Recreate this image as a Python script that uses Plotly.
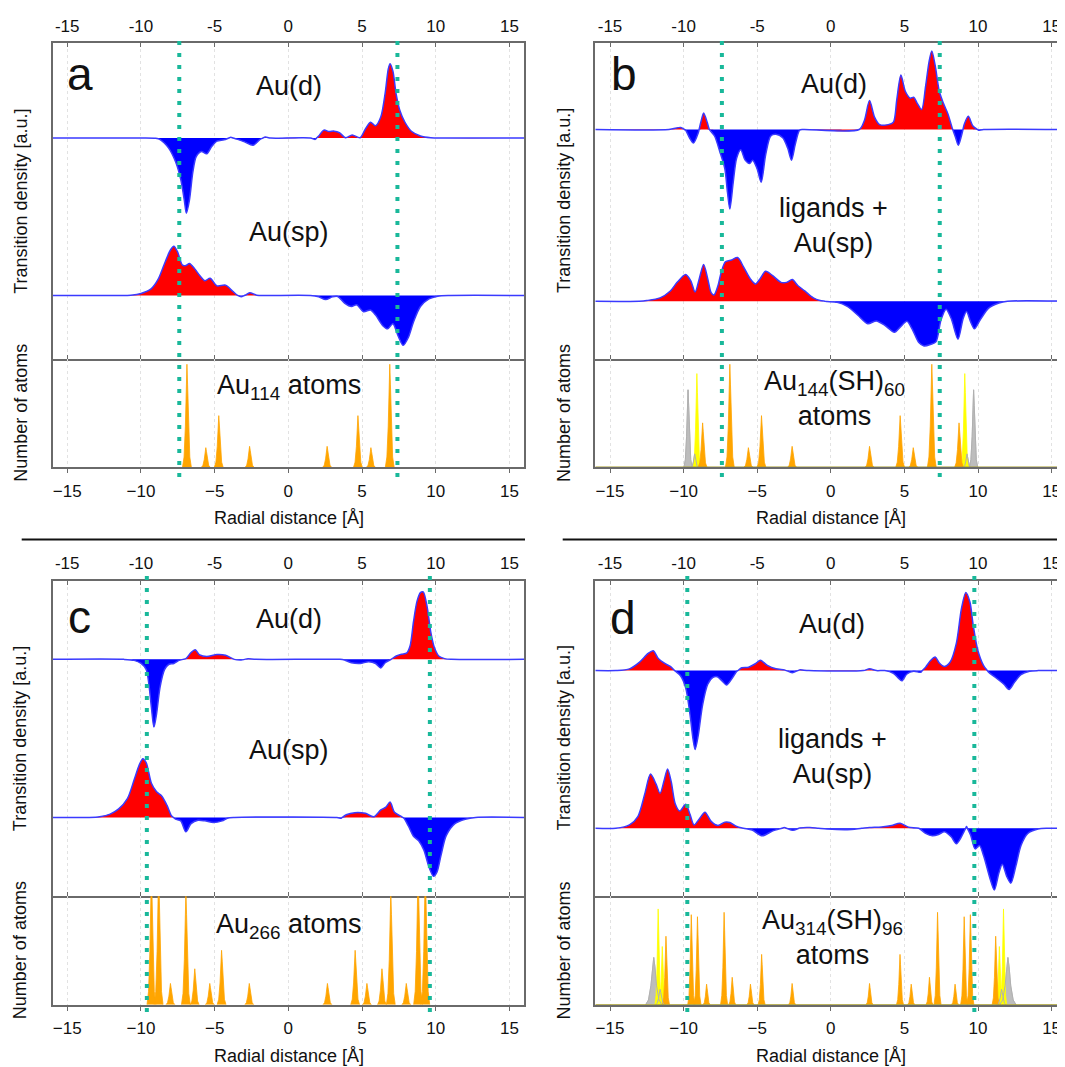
import numpy as np
import plotly.graph_objects as go

# page geometry: the browser body keeps an 8px margin, so the figure is placed at (8, 8)
W, H = 1065, 1067
OFF = 8
FW, FH = W - OFF, H - OFF
XRANGE = [-16, 16]
TICKS = [-15, -10, -5, 0, 5, 10, 15]
TOP_TICKTEXT = ["-15", "-10", "-5", "0", "5", "10", "15"]
BOTTOM_TICKTEXT = ["\u221215", "\u221210", "\u22125", "0", "5", "10", "15"]

# ---------------- transition density curves (x [Å], value [a.u.]) ----------------
A_D = [(-16, 0), (-10, 0), (-9.0, -0.3), (-8.7, -1.5), (-8.12, -9.7), (-7.65, -23), (-7.3, -40),
       (-7.06, -60), (-6.92, -72.7), (-6.71, -60), (-6.48, -33), (-6.25, -18), (-5.9, -13),
       (-5.54, -15.3), (-5.19, -8), (-4.84, -3), (-4.37, -1.7), (-3.91, 0.7), (-3.44, -1.3),
       (-2.97, -3.7), (-2.39, -7), (-1.92, -1.3), (-1.57, 1), (-1.2, 0), (1.5, 0), (1.82, -1.3),
       (2.06, 2), (2.41, 7.7), (2.76, 6.3), (3.11, 6.7), (3.46, 5.3), (3.88, 0.3), (4.33, 3),
       (4.87, 0.3), (5.22, 8.7), (5.57, 15.3), (5.92, 12), (6.27, 20.3), (6.57, 43.7), (6.78, 67),
       (6.9, 72), (7.09, 65), (7.32, 42), (7.56, 27), (7.91, 15.3), (8.37, 6.3), (8.96, 2),
       (9.66, 0.3), (10.5, 0), (16, 0)]
A_SP = [(-16, 0), (-11.5, 0), (-10.69, 0.3), (-9.99, 2), (-9.29, 6.7), (-8.82, 16), (-8.35, 32.7),
        (-8.0, 44), (-7.77, 47.7), (-7.53, 42.7), (-7.18, 29.3), (-6.95, 29), (-6.71, 31),
        (-6.36, 26), (-6.01, 19.3), (-5.66, 14.3), (-5.31, 16.7), (-4.84, 9.3), (-4.26, 10),
        (-3.79, 4.3), (-3.44, 0), (-3.2, -1.3), (-2.9, 0.5), (-2.62, 2.7), (-2.15, 0.3), (-1.5, 0),
        (1.5, 0), (2.06, -1.3), (2.53, -4), (3.0, -1.3), (3.35, -1), (3.81, -7.3), (4.28, -10.7),
        (4.63, -9), (5.1, -15.7), (5.57, -14), (5.92, -19), (6.39, -29), (6.74, -32.3),
        (7.09, -27.3), (7.44, -39), (7.79, -48.3), (8.14, -40.7), (8.49, -25.7), (8.96, -10.7),
        (9.54, -3.3), (10.13, -0.7), (11, 0), (16, 0)]
B_D = [(-16, 0), (-11, 0), (-10.2, 2), (-9.86, -0.7), (-9.6, -8), (-9.33, -13), (-9.0, -3),
       (-8.8, 8.7), (-8.64, 16), (-8.4, 7), (-8.25, 0), (-7.9, -6.3), (-7.55, -21), (-7.2, -38),
       (-7.02, -61), (-6.86, -77), (-6.63, -51), (-6.4, -28), (-6.12, -19.7), (-5.82, -29.7),
       (-5.52, -33), (-5.31, -29.7), (-5.01, -38), (-4.73, -51), (-4.43, -24.7), (-4.08, -6.3),
       (-3.73, -4.7), (-3.27, -8), (-2.93, -18), (-2.67, -29.7), (-2.42, -14.7), (-2.12, -0.7),
       (-1.88, 0), (1.93, 0), (2.28, 8.7), (2.63, 28), (2.97, 12), (3.32, 4.7), (3.9, 4.7),
       (4.25, 7), (4.48, 28.7), (4.76, 52.7), (5.06, 37), (5.4, 30.3), (5.63, 31.3), (5.87, 25.3),
       (6.17, 19.3), (6.44, 42), (6.67, 65.3), (6.86, 76), (7.09, 62), (7.37, 37), (7.65, 25.3),
       (7.95, 15.3), (8.25, 1.3), (8.48, -8), (8.66, -15.3), (8.87, -6.3), (9.06, 4.7),
       (9.34, 12.7), (9.64, 3.7), (10.03, -0.7), (10.38, 0), (16, 0)]
B_SP = [(-16, 0), (-13, 0), (-12.5, 0.7), (-11.6, 3.3), (-10.9, 10), (-10.44, 18.3), (-9.86, 26),
        (-9.52, 20), (-9.22, 9), (-8.94, 21.7), (-8.64, 35.7), (-8.36, 21.7), (-8.13, 8.3),
        (-7.94, 6), (-7.67, 15), (-7.44, 28.3), (-7.16, 38.3), (-6.74, 40), (-6.33, 42.3),
        (-5.93, 33.3), (-5.47, 21.7), (-5.12, 16.7), (-4.78, 22.3), (-4.43, 29), (-3.97, 25),
        (-3.39, 18.3), (-3.0, 18.3), (-2.62, 21), (-2.23, 15), (-1.77, 10), (-1.19, 3.3),
        (-0.73, 0.7), (-0.27, -0.3), (0.43, -1), (1.12, -5), (1.82, -13.3), (2.51, -21.7),
        (3.09, -19), (3.67, -23.3), (4.32, -30), (4.71, -25), (5.17, -19.3), (5.52, -26.7),
        (5.98, -40), (6.33, -43.3), (6.79, -41.7), (7.14, -39.3), (7.48, -18.3), (7.83, -7.7),
        (8.18, -16.7), (8.64, -36.7), (8.99, -16.7), (9.22, -10), (9.5, -20), (9.75, -26.7),
        (10.14, -18.3), (10.72, -6.7), (11.42, -1.7), (12.0, 0), (16, 0)]
C_D = [(-16, 0), (-11.16, 0), (-10.46, -1), (-9.99, -4), (-9.64, -10), (-9.47, -23.3),
       (-9.29, -46.7), (-9.12, -66), (-8.94, -53), (-8.7, -26.7), (-8.4, -10), (-8.12, -5),
       (-7.77, -4), (-7.42, -1), (-6.95, 0.7), (-6.6, 6.7), (-6.32, 9.3), (-6.01, 4.3),
       (-5.54, 2.7), (-4.84, 4.7), (-4.26, 4), (-3.67, 0), (-3.2, -0.7), (-2.74, 0.7), (-2.2, 0),
       (3.5, 0), (3.81, -0.7), (4.28, -3.3), (4.87, -4), (5.45, -2.3), (5.92, -4), (6.27, -8.3),
       (6.57, -3.3), (6.97, 0), (7.32, 3.3), (7.67, 5), (8.02, 6), (8.26, 13.3), (8.49, 36.7),
       (8.73, 56.7), (8.96, 65), (9.15, 65.7), (9.43, 50), (9.66, 26.7), (9.9, 11.7), (10.2, 3.3),
       (10.6, 0.7), (11.06, 0), (16, 0)]
C_SP = [(-16, 0), (-13.5, 0), (-12.8, 0.7), (-12.09, 3.3), (-11.51, 8.3), (-10.92, 18.3),
        (-10.46, 36.7), (-10.1, 51.7), (-9.87, 57.3), (-9.64, 53.3), (-9.29, 33.3), (-8.94, 25),
        (-8.58, 20.7), (-8.23, 11.7), (-7.93, 1.7), (-7.65, -1.7), (-7.3, -3.3), (-6.95, -14),
        (-6.6, -6), (-6.13, -2.7), (-5.66, -3.3), (-5.08, -5), (-4.49, -3.3), (-4.14, -0.7),
        (-3.67, 0), (3.3, 0), (3.58, -0.7), (3.93, 2.7), (4.51, 4.7), (5.22, 4), (5.8, 0.7),
        (6.27, 7.3), (6.62, 10), (6.9, 15), (7.2, 5), (7.56, 1.7), (7.84, -0.7), (8.14, -8.3),
        (8.49, -18.3), (8.84, -22.7), (9.19, -31.7), (9.54, -48.3), (9.85, -57.3), (10.08, -53.3),
        (10.36, -36.7), (10.71, -17.7), (11.3, -6), (12.0, -1.7), (12.7, 0), (16, 0)]
D_D = [(-16, 0), (-14.6, 0), (-13.68, 1.7), (-12.99, 8.3), (-12.41, 16.7), (-12.06, 19.3),
       (-11.72, 11.7), (-11.25, 6.7), (-10.9, 4), (-10.56, -0.7), (-10.21, -5), (-9.86, -16.7),
       (-9.56, -43.3), (-9.36, -66.7), (-9.22, -76.7), (-9.01, -63.3), (-8.71, -33.3),
       (-8.36, -13.3), (-8.01, -6.7), (-7.71, -6), (-7.39, -10), (-7.09, -14), (-6.74, -8.3),
       (-6.39, -0.7), (-6.05, 2.7), (-5.59, 3.3), (-5.12, 6.7), (-4.78, 10), (-4.31, 5),
       (-3.73, 1.7), (-3.16, 0.7), (-2.62, -2), (-2.12, 0.7), (-1.5, 0), (2.2, 0), (2.63, 1.7),
       (3.1, 0), (3.67, 0), (4.25, -2.7), (4.59, -7.3), (4.82, -10), (5.17, -3.3), (5.63, -0.7),
       (6.1, -1.7), (6.44, 3.3), (6.79, 10), (7.09, 13.3), (7.37, 7.3), (7.72, 4), (8.11, 8.3),
       (8.53, 26.7), (8.87, 60), (9.17, 76), (9.45, 66.7), (9.68, 43.3), (9.98, 20), (10.37, 5),
       (10.72, -1.7), (11.19, -6.7), (11.76, -13.3), (12.11, -18.3), (12.46, -11.7),
       (12.92, -4), (13.5, -0.7), (14.08, 0), (16, 0)]
D_SP = [(-16, 0), (-14.6, 0), (-13.68, 3.3), (-13.1, 11.7), (-12.64, 33.3), (-12.25, 52.7),
        (-11.88, 43.3), (-11.6, 34), (-11.32, 46.7), (-11.09, 57.7), (-10.84, 45), (-10.56, 23.3),
        (-10.26, 16.7), (-9.86, 23.3), (-9.56, 13.3), (-9.29, 3.3), (-8.89, 10), (-8.55, 15.7),
        (-8.13, 6.7), (-7.67, 2.7), (-7.2, 6), (-6.86, 5.7), (-6.39, 1.7), (-5.93, 0),
        (-5.35, -1.7), (-4.66, -7.3), (-3.97, -2.7), (-3.16, 0.7), (-2.58, -2), (-2.12, 0.3),
        (-1.42, 0.7), (-0.27, -0.7), (1.12, -1.3), (2.63, 0.7), (3.44, 1.3), (4.13, 2.7),
        (4.71, 5), (5.29, 1), (5.98, 0), (6.44, -5), (6.9, -7.3), (7.32, -6), (7.72, -3.3),
        (8.18, -8.3), (8.53, -15), (8.87, -8.3), (9.22, 1.7), (9.5, -6.7), (9.8, -20),
        (10.1, -16.7), (10.38, -26.7), (10.84, -50), (11.11, -60), (11.42, -43.3), (11.65, -35),
        (11.95, -46.7), (12.23, -53.3), (12.57, -36.7), (12.92, -16.7), (13.38, -5),
        (14.08, -0.7), (14.77, 0), (16, 0)]

# ---------------- atom radial distributions: (position [Å], height, half-width [Å]) ----------------
A_AU = [(-6.88, 99.7, .3), (-5.6, 19, .3), (-4.72, 50, .3), (-2.63, 20.3, .3),
        (2.63, 20.3, .3), (4.72, 50, .3), (5.6, 19, .3), (6.88, 99.7, .3)]
B_AU = [(-8.71, 43, .3), (-6.86, 99.7, .3), (-5.6, 19, .3), (-4.71, 50, .3), (-2.63, 20.3, .3),
        (2.63, 20.3, .3), (4.71, 50, .3), (5.6, 19, .3), (6.86, 99.7, .3), (8.71, 43, .3)]
B_S = [(-9.1, 90.7, .26), (9.1, 90.7, .26)]
B_H = [(-9.7, 75, .28), (-9.25, 13, .25), (9.25, 13, .25), (9.7, 75, .28)]
C_AU = [(-9.29, 130, .3), (-8.8, 130, .3), (-8.0, 20.7, .3), (-6.95, 110, .3), (-6.35, 35, .3),
        (-5.33, 20.7, .3), (-4.53, 53, .3), (-2.65, 20.7, .3), (2.65, 20.7, .3), (4.53, 53, .3),
        (5.33, 20.7, .3), (6.35, 35, .3), (6.95, 110, .3), (8.0, 20.7, .3), (8.8, 130, .3),
        (9.29, 130, .3)]
D_AU = [(-11.2, 66.7, .24), (-9.48, 87.7, .24), (-9.06, 85.7, .24), (-8.44, 20, .24), (-7.25, 90, .24),
        (-6.7, 26.7, .24), (-5.46, 20, .24), (-4.7, 49, .24), (-2.63, 20.7, .24), (2.63, 20.7, .24),
        (4.7, 49, .24), (5.46, 20, .24), (6.7, 26.7, .24), (7.25, 90, .24), (8.44, 20, .24),
        (9.06, 85.7, .24), (9.48, 87.7, .24), (11.2, 66.7, .24)]
D_S = [(-11.73, 93.3, .22), (-11.45, 56.7, .22), (11.45, 56.7, .22), (11.73, 93.3, .22)]
D_H = [(-12.03, 46, .55), (-11.6, 15, .3), (11.6, 15, .3), (12.03, 46, .55)]

# dashed reference radii
A_VL = [-7.4, 7.4]
B_VL = [-7.4, 7.4]
C_VL = [-9.6, 9.6]
D_VL = [-9.75, 9.75]

# ---------------- styling ----------------
FONT = "Liberation Sans, Arial, Helvetica, sans-serif"
RED, BLUE, OUTLINE = "#ff0000", "#0000ff", "#3a3aff"
ORANGE, YELLOW, GRAY = "#ffa500", "#ffff00", "#bdbdbd"
TEAL = "#19b89a"
FRAME = "#6a6a6a"
PROFILE_T = [-1, -0.65, -0.35, -0.15, 0, 0.15, 0.35, 0.65, 1]
PROFILE_F = [0, 0.1, 0.4, 0.8, 1, 0.8, 0.4, 0.1, 0]

PANELS = [
    dict(d=A_D, sp=A_SP, au=A_AU, s=None, h=None, vl=A_VL,
         xl=52.5, xr=524.2, top=43.4, div=358.8, bot=467.3, vt=37, vb=477,
         dh=305.33, off=(213.7, 61.3), ah=105, xend=16,
         labels=[("a", 80, 74, 46), ("Au(d)", 289, 86, 27), ("Au(sp)", 289, 232, 27),
                 ("Au<sub>114</sub> atoms", 289, 387, 27)],
         ytx=20.7, xtx=288.5, mirror=True),
    dict(d=B_D, sp=B_SP, au=B_AU, s=B_S, h=B_H, vl=B_VL,
         xl=595.3, xr=1065, top=43.4, div=358.8, bot=467.3, vt=37, vb=477,
         dh=305.33, off=(222, 55.7), ah=105, xend=-16 + (1065 - 595.3) / 14.72,
         labels=[("b", 623.7, 74, 46), ("Au(d)", 834, 84, 27), ("ligands +<br>Au(sp)", 833, 225, 27),
                 ("Au<sub>144</sub>(SH)<sub>60</sub><br>atoms", 834, 398, 27)],
         ytx=564, xtx=831, mirror=False),
    dict(d=C_D, sp=C_SP, au=C_AU, s=None, h=None, vl=C_VL,
         xl=52.5, xr=524.2, top=580.7, div=896.2, bot=1004.7, vt=572, vb=1012,
         dh=307.33, off=(230.7, 76.7), ah=105.7, xend=16,
         labels=[("c", 79.5, 617, 46), ("Au(d)", 289, 618.5, 27), ("Au(sp)", 289, 750, 27),
                 ("Au<sub>266</sub> atoms", 289, 926, 27)],
         ytx=20.7, xtx=288.5, mirror=True),
    dict(d=D_D, sp=D_SP, au=D_AU, s=D_S, h=D_H, vl=D_VL,
         xl=595.3, xr=1065, top=580.7, div=896.2, bot=1004.7, vt=572, vb=1012,
         dh=306.67, off=(219.3, 66), ah=105.7, xend=-16 + (1065 - 595.3) / 14.72,
         labels=[("d", 622.5, 617.5, 46), ("Au(d)", 832.4, 623.5, 27),
                 ("ligands +<br>Au(sp)", 832.4, 756, 27),
                 ("Au<sub>314</sub>(SH)<sub>96</sub><br>atoms", 832.4, 937, 27)],
         ytx=564, xtx=831, mirror=False),
]


def px(x):
    return (x - OFF) / FW


def py(y):
    return 1 - (y - OFF) / FH


def nm(a, n):
    return a + ("" if n == 1 else str(n))


def split_sign(pairs):
    xs = [p[0] for p in pairs]
    vs = [p[1] for p in pairs]
    X, V = [xs[0]], [vs[0]]
    for i in range(1, len(xs)):
        if vs[i - 1] * vs[i] < 0:
            t = vs[i - 1] / (vs[i - 1] - vs[i])
            X.append(xs[i - 1] + t * (xs[i] - xs[i - 1]))
            V.append(0.0)
        X.append(xs[i])
        V.append(vs[i])
    V = np.array(V, dtype=float)
    return np.array(X, dtype=float), V, np.maximum(V, 0), np.minimum(V, 0)


def peak_polys(peaks):
    xs, ys = [], []
    for pos, hgt, w in peaks:
        for t, f in zip(PROFILE_T, PROFILE_F):
            xs.append(pos + t * w)
            ys.append(hgt * f)
        xs.append(None)
        ys.append(None)
    return xs, ys


fig = go.Figure()
layout = dict(width=FW, height=FH, margin=dict(l=0, r=0, t=0, b=0, autoexpand=False), autosize=False,
              paper_bgcolor="white", plot_bgcolor="white", showlegend=False,
              font=dict(family=FONT, color="#111", size=17), template="none")
shapes, annotations = [], []
SPL = dict(shape="spline", smoothing=0.8)

for i, P in enumerate(PANELS):
    xd, xa = 2 * i + 1, 2 * i + 2
    yd, ya = 2 * i + 1, 2 * i + 2
    xr = [XRANGE[0], P["xend"]]
    xdom = [px(P["xl"]), min(1.0, px(P["xr"]))]
    common_x = dict(range=xr, domain=xdom, tickmode="array", tickvals=TICKS, showline=True,
                    linecolor=FRAME, linewidth=1.6, showgrid=True, gridcolor="#e2e2e2",
                    griddash="dot", gridwidth=1, zeroline=False, tickcolor=FRAME, ticklen=4,
                    tickwidth=1.4, automargin=False,
                    tickfont=dict(size=17, family=FONT, color="#111"), fixedrange=True)
    layout[nm("xaxis", xd)] = dict(common_x, anchor=nm("y", yd), side="top", ticks="inside",
                                   ticktext=TOP_TICKTEXT, mirror="ticks", ticklabelstandoff=3)
    layout[nm("xaxis", xa)] = dict(common_x, anchor=nm("y", ya), side="bottom", ticks="outside",
                                   ticktext=BOTTOM_TICKTEXT, mirror=False, ticklabelstandoff=3)
    ycommon = dict(showline=True, linecolor=FRAME, linewidth=1.6, mirror=P["mirror"],
                   showticklabels=False, ticks="", showgrid=False, zeroline=False,
                   fixedrange=True, automargin=False)
    layout[nm("yaxis", yd)] = dict(ycommon, domain=[py(P["div"]), py(P["top"])],
                                   range=[0, P["dh"]], anchor=nm("x", xd))
    layout[nm("yaxis", ya)] = dict(ycommon, domain=[py(P["bot"]), py(P["div"])],
                                   range=[0, P["ah"]], anchor=nm("x", xa))

    dkw = dict(xaxis=nm("x", xd), yaxis=nm("y", yd), hoverinfo="skip", mode="lines")
    # transition densities, each drawn around its own baseline
    for curve, off in ((P["d"], P["off"][0]), (P["sp"], P["off"][1])):
        X, V, pos, neg = split_sign(curve)
        base = np.full_like(X, off)
        for arr, col in ((pos, RED), (neg, BLUE)):
            fig.add_trace(go.Scatter(x=X, y=base, line=dict(width=0, color=col), **dkw))
            fig.add_trace(go.Scatter(x=X, y=arr + off, fill="tonexty", fillcolor=col,
                                     line=dict(width=0, color=col, **SPL), **dkw))
        fig.add_trace(go.Scatter(x=X, y=V + off, line=dict(width=1.5, color=OUTLINE, **SPL), **dkw))

    # atoms
    akw = dict(xaxis=nm("x", xa), yaxis=nm("y", ya), hoverinfo="skip", mode="lines")
    if P["h"]:
        hx, hy = peak_polys(P["h"])
        fig.add_trace(go.Scatter(x=hx, y=hy, fill="toself", fillcolor=GRAY,
                                 line=dict(width=0.8, color=GRAY), **akw))
    if P["s"]:
        sx, sy = peak_polys(P["s"])
        fig.add_trace(go.Scatter(x=sx, y=sy, fill="toself", fillcolor=YELLOW,
                                 line=dict(width=0.8, color=YELLOW), **akw))
    ox, oy = peak_polys(P["au"])
    fig.add_trace(go.Scatter(x=ox, y=oy, fill="toself", fillcolor=ORANGE,
                             line=dict(width=0.8, color=ORANGE), **akw))
    if P["h"]:
        fig.add_trace(go.Scatter(x=hx, y=hy, line=dict(width=1.0, color="#b0b0b0"), **akw))
        fig.add_trace(go.Scatter(x=xr, y=[0, 0], line=dict(width=1.6, color="#a39a2a"), **akw))

    # dotted reference lines (data x, paper y)
    for v in P["vl"]:
        shapes.append(dict(type="line", xref=nm("x", xd), yref="paper", x0=v, x1=v,
                           y0=py(P["vb"]), y1=py(P["vt"]), layer="above",
                           line=dict(color=TEAL, width=4, dash="4px,8px")))

    # texts
    for txt, tx, ty, fs in P["labels"]:
        annotations.append(dict(text=txt, x=px(tx), y=py(ty), xref="paper", yref="paper",
                                showarrow=False, xanchor="center", yanchor="middle",
                                font=dict(size=fs, family=FONT, color="#111")))
    annotations.append(dict(text="Transition density [a.u.]", x=px(P["ytx"]),
                            y=py((P["top"] + P["div"]) / 2), xref="paper", yref="paper",
                            textangle=-90, showarrow=False, xanchor="center", yanchor="middle",
                            font=dict(size=18, family=FONT, color="#111")))
    annotations.append(dict(text="Number of atoms", x=px(P["ytx"]),
                            y=py((P["div"] + P["bot"]) / 2), xref="paper", yref="paper",
                            textangle=-90, showarrow=False, xanchor="center", yanchor="middle",
                            font=dict(size=18, family=FONT, color="#111")))
    annotations.append(dict(text="Radial distance [Å]", x=px(P["xtx"]), y=py(P["bot"] + 51),
                            xref="paper", yref="paper", showarrow=False, xanchor="center",
                            yanchor="middle", font=dict(size=18, family=FONT, color="#111")))

# separators between upper and lower rows
for x0, x1 in ((21.7, 525), (562.7, 1065)):
    shapes.append(dict(type="line", xref="paper", yref="paper", x0=px(x0), x1=px(x1),
                       y0=py(539.5), y1=py(539.5), line=dict(color="#111", width=2)))

layout["shapes"] = shapes
layout["annotations"] = annotations
fig.update_layout(**layout)
fig.write_html("out.html")
